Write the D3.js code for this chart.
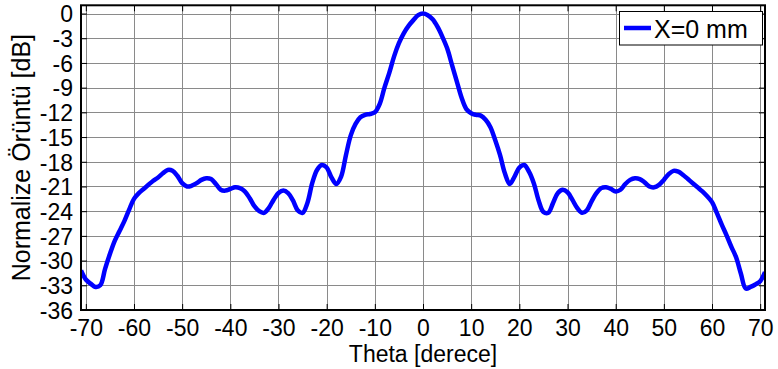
<!DOCTYPE html>
<html>
<head>
<meta charset="utf-8">
<script src="https://cdn.jsdelivr.net/npm/d3@7"></script>
<style>
  body { margin: 0; background: #fff; }
  svg { display: block; font-family: "Liberation Sans", Arial, sans-serif; }
</style>
</head>
<body>
<svg id="chart" width="778" height="369"></svg>
<script>
// ---- data ----
const theta = [-71,-70,-69,-68,-67,-66,-65,-64,-63,-62,-61,-60,-59,-58,-57,-56,-55,-54,-53,-52,-51,-50,
  -49,-48,-47,-46,-45,-44,-43,-42,-41,-40,-39,-38,-37,-36,-35,-34,-33,-32,-31,-30,-29,-28,-27,-26,-25,-24,
  -23,-22,-21,-20,-19,-18,-17,-16,-15,-14,-13,-12,-11,-10,-9,-8,-7,-6,-5,-4,-3,-2,-1,0,
  1,2,3,4,5,6,7,8,9,10,11,12,13,14,15,16,17,18,19,20,21,22,23,24,25,26,27,28,29,30,
  31,32,33,34,35,36,37,38,39,40,41,42,43,44,45,46,47,48,49,50,51,52,53,54,55,56,57,58,59,60,
  61,62,63,64,65,66,67,68,69,70,71];
const gainDb = [-31.2,-32.3,-32.8,-33.2,-33.0,-31.0,-29.2,-27.6,-26.4,-25.2,-23.8,-22.5,-21.8,-21.3,-20.8,-20.3,-19.9,-19.4,-19.0,-19.1,-19.7,-20.6,
  -21.0,-20.9,-20.6,-20.2,-20.0,-20.1,-20.7,-21.4,-21.5,-21.3,-21.1,-21.2,-21.6,-22.4,-23.4,-24.0,-24.2,-23.6,-22.6,-21.8,-21.5,-21.8,-22.7,-23.9,-24.2,-23.0,
  -20.6,-19.0,-18.4,-18.7,-19.9,-20.7,-19.8,-17.2,-14.8,-13.4,-12.6,-12.3,-12.2,-12.0,-11.0,-9.0,-7.2,-5.2,-3.6,-2.4,-1.5,-0.8,-0.2,0,
  -0.2,-0.7,-1.6,-2.8,-4.2,-6.2,-8.2,-10.2,-11.6,-12.1,-12.3,-12.4,-12.9,-13.8,-15.4,-17.2,-19.4,-20.7,-19.8,-18.7,-18.4,-19.2,-20.6,-22.7,-24.1,-24.2,-23.0,-21.8,-21.4,-21.7,
  -22.6,-23.6,-24.2,-23.9,-22.8,-21.8,-21.2,-21.1,-21.3,-21.6,-21.4,-20.7,-20.2,-20.0,-20.1,-20.5,-21.0,-21.1,-20.8,-20.2,-19.5,-19.1,-19.2,-19.6,-20.1,-20.6,-21.1,-21.6,-22.2,-22.9,
  -24.2,-25.6,-26.9,-28.3,-29.6,-31.6,-33.4,-33.2,-32.9,-32.5,-31.4];
const xTicks = [-70,-60,-50,-40,-30,-20,-10,0,10,20,30,40,50,60,70];
const yTicks = [0,-3,-6,-9,-12,-15,-18,-21,-24,-27,-30,-33,-36];
const seriesName = "X=0 mm";
const xTitle = "Theta [derece]";
const yTitle = "Normalize Örüntü [dB]";

// ---- layout ----
const L = 81, R = 765, T = 5.3, B = 310;
const FONT = "'Liberation Sans', Arial, sans-serif";
const svg = d3.select("#chart");
const x = d3.scaleLinear().domain([-71, 71]).range([L, R]);
const y = d3.scaleLinear().domain([-36, 1]).range([B, T]);
const fmt = d => String(d); // plain hyphen-minus like the reference

// grid
const grid = svg.append("g").attr("stroke", "#8a8a8a").attr("stroke-width", 1);
grid.selectAll("line.gx").data(xTicks).join("line")
  .attr("x1", d => Math.round(x(d)) + 0.5).attr("x2", d => Math.round(x(d)) + 0.5)
  .attr("y1", T).attr("y2", B);
grid.selectAll("line.gy").data(yTicks).join("line")
  .attr("y1", d => Math.round(y(d)) + 0.5).attr("y2", d => Math.round(y(d)) + 0.5)
  .attr("x1", L).attr("x2", R);

// line
svg.append("clipPath").attr("id", "clip").append("rect")
  .attr("x", L).attr("y", T).attr("width", R - L).attr("height", B - T);
const pts = theta.map((t, i) => [t, gainDb[i]]);
svg.append("path").datum(pts)
  .attr("clip-path", "url(#clip)")
  .attr("fill", "none").attr("stroke", "#0000ff").attr("stroke-width", 4.5)
  .attr("stroke-linejoin", "round")
  .attr("d", d3.line().x(d => x(d[0])).y(d => y(d[1])).curve(d3.curveCatmullRom));

// axes (ticks inward, box)
const tickLen = 6;
const axB = svg.append("g").attr("transform", `translate(0,${B})`)
  .call(d3.axisBottom(x).tickValues(xTicks).tickSize(-tickLen).tickFormat(fmt));
const axT = svg.append("g").attr("transform", `translate(0,${T})`)
  .call(d3.axisTop(x).tickValues(xTicks).tickSize(-tickLen).tickFormat(""));
const axL = svg.append("g").attr("transform", `translate(${L},0)`)
  .call(d3.axisLeft(y).tickValues(yTicks).tickSize(-tickLen).tickPadding(tickLen + 2).tickFormat(fmt));
const axR = svg.append("g").attr("transform", `translate(${R},0)`)
  .call(d3.axisRight(y).tickValues(yTicks).tickSize(-tickLen).tickFormat(""));
[axB, axT, axL, axR].forEach(g => {
  g.select(".domain").remove();
  g.selectAll(".tick line").attr("stroke", "#000").attr("stroke-width", 1);
  g.selectAll("text").attr("fill", "#000").attr("font-size", 23).attr("font-family", FONT);
});
axB.selectAll("text").attr("dy", null).attr("y", 26);
axL.selectAll("text").attr("dy", "0.36em");

// box
svg.append("rect").attr("x", L).attr("y", T).attr("width", R - L).attr("height", B - T)
  .attr("fill", "none").attr("stroke", "#000").attr("stroke-width", 2);

// titles
svg.append("text").attr("x", (L + R) / 2).attr("y", 362).attr("text-anchor", "middle")
  .attr("font-family", FONT).attr("font-size", 23).attr("fill", "#000").text(xTitle);
svg.append("text").attr("transform", `translate(30,${(T + B) / 2}) rotate(-90)`)
  .attr("text-anchor", "middle").attr("font-family", FONT).attr("font-size", 25).attr("fill", "#000").text(yTitle);

// legend
const lg = svg.append("g");
lg.append("rect").attr("x", 619.5).attr("y", 11.5).attr("width", 143).attr("height", 33.5)
  .attr("fill", "#fff").attr("stroke", "#000").attr("stroke-width", 1);
lg.append("line").attr("x1", 624).attr("x2", 651).attr("y1", 28).attr("y2", 28)
  .attr("stroke", "#0000ff").attr("stroke-width", 4.5);
lg.append("text").attr("x", 654).attr("y", 37.5).attr("font-family", FONT).attr("font-size", 25).attr("fill", "#000").text(seriesName);
</script>
</body>
</html>
